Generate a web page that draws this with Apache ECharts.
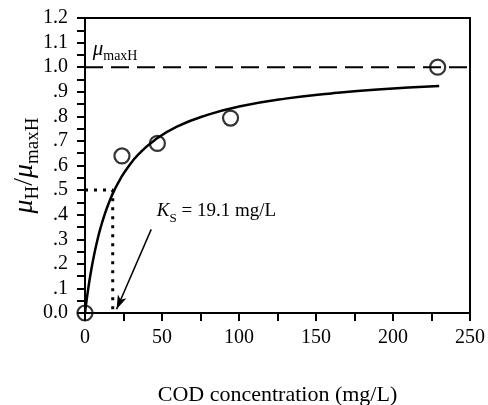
<!DOCTYPE html>
<html>
<head>
<meta charset="utf-8">
<script src="https://cdn.jsdelivr.net/npm/echarts@6/dist/echarts.min.js"></script>
<style>
  html, body { margin: 0; padding: 0; background: #fff; }
  #main { width: 488px; height: 405px; }
</style>
</head>
<body>
<div id="main"></div>
<script>
// measured points
var obsX = [0, 24, 47, 94.5, 229];
var obsY = [0, 0.639, 0.69, 0.793, 1.0];

// fitted curve
var fitX = [0, 2, 4, 6, 8, 10, 13, 16, 19, 23, 28, 35, 45, 60, 80, 100, 130, 160, 190, 230];
var fitY = [0, 0.095, 0.173, 0.239, 0.295, 0.344, 0.405, 0.456, 0.499, 0.546, 0.594, 0.647, 0.702, 0.759, 0.807, 0.840, 0.872, 0.893, 0.909, 0.923];

// mu max line, Ks guide
var maxX = [0, 253];
var maxY = [1.0, 1.0];
var ksX = [0, 18, 18];
var ksY = [0.5, 0.5, 0];
var arrowFrom = [43, 0.34];
var arrowTo = [20.5, 0.015];

var xTicks = [0, 250, 50];
var yTicks = [0, 1.2, 0.1];

var serif = "'Liberation Serif', 'DejaVu Serif', serif";

function pairs(xs, ys) {
    var out = [];
    for (var i = 0; i < xs.length; i++) {
        out.push([xs[i], ys[i]]);
    }
    return out;
}

// main text top-aligned, subscript pushed down by padding
function subRich(big, small, drop) {
    return {
        i: { fontFamily: serif, fontStyle: 'italic', fontSize: big, verticalAlign: 'top', color: '#000' },
        n: { fontFamily: serif, fontSize: big, verticalAlign: 'top', color: '#000' },
        s: { fontFamily: serif, fontSize: small, padding: [drop, 0, 0, 0], verticalAlign: 'bottom', color: '#000' }
    };
}

var myChart = echarts.init(document.getElementById('main'));

var option = {
    animation: false,
    backgroundColor: '#fff',
    grid: {
        left: 85,
        right: 18,
        top: 18,
        bottom: 92,
        outerBoundsMode: 'none',
        show: true,
        borderColor: '#000',
        borderWidth: 2,
        backgroundColor: 'transparent'
    },
    xAxis: {
        type: 'value',
        min: xTicks[0],
        max: xTicks[1],
        interval: xTicks[2],
        name: 'COD concentration (mg/L)',
        nameLocation: 'middle',
        nameGap: 71,
        nameMoveOverlap: false,
        nameTextStyle: { fontFamily: serif, fontSize: 22, color: '#000' },
        axisLine: { show: true, lineStyle: { color: '#000', width: 2 } },
        axisTick: { show: true, length: 8, lineStyle: { color: '#000', width: 2 } },
        minorTick: { show: true, splitNumber: 2, length: 8, lineStyle: { color: '#000', width: 2 } },
        axisLabel: { fontFamily: serif, fontSize: 20, color: '#000', margin: 15 },
        splitLine: { show: false }
    },
    yAxis: {
        type: 'value',
        min: yTicks[0],
        max: yTicks[1],
        interval: yTicks[2],
        name: '{i|μ}{s|H}{n|/}{i|μ}{s|maxH}',
        nameLocation: 'middle',
        nameRotate: 90,
        nameGap: 42,
        nameMoveOverlap: false,
        nameTextStyle: { color: '#000', rich: subRich(28, 19, 13) },
        axisLine: { show: true, lineStyle: { color: '#000', width: 2 } },
        axisTick: { show: true, length: 8, lineStyle: { color: '#000', width: 2 } },
        minorTick: { show: true, splitNumber: 2, length: 8, lineStyle: { color: '#000', width: 2 } },
        axisLabel: {
            fontFamily: serif, fontSize: 20, color: '#000', margin: 17,
            formatter: function (v) {
                var s = v.toFixed(1);
                if (v > 0 && v < 1) s = s.replace(/^0/, '');
                return s;
            }
        },
        splitLine: { show: false }
    },
    series: [
        {
            name: 'max',
            type: 'line',
            data: pairs(maxX, maxY),
            symbol: 'none',
            clip: false,
            lineStyle: { color: '#000', width: 2, type: [18, 8] },
            markPoint: {
                symbol: 'circle',
                symbolSize: 0,
                data: [{ coord: [5, 1.065] }],
                label: {
                    show: true,
                    position: 'inside',
                    align: 'left',
                    verticalAlign: 'middle',
                    formatter: '{i|μ}{s|maxH}',
                    rich: subRich(21, 14, 10)
                }
            }
        },
        {
            name: 'ks',
            type: 'line',
            data: pairs(ksX, ksY),
            symbol: 'none',
            lineStyle: { color: '#000', width: 3, type: [3, 6] },
            markLine: {
                silent: true,
                symbol: ['none', 'arrow'],
                symbolSize: [7, 14],
                lineStyle: { color: '#000', width: 1.5, type: 'solid' },
                label: { show: false },
                data: [[{ coord: arrowFrom }, { coord: arrowTo }]]
            },
            markPoint: {
                symbol: 'circle',
                symbolSize: 0,
                data: [{ coord: [46.6, 0.405] }],
                label: {
                    show: true,
                    position: 'inside',
                    align: 'left',
                    verticalAlign: 'middle',
                    formatter: '{i|K}{s|S}{n| = 19.1 mg/L}',
                    rich: subRich(19, 13, 11)
                }
            }
        },
        {
            name: 'fit',
            type: 'line',
            data: pairs(fitX, fitY),
            symbol: 'none',
            smooth: true,
            lineStyle: { color: '#000', width: 2.5 }
        },
        {
            name: 'obs',
            type: 'scatter',
            data: pairs(obsX, obsY),
            symbol: 'circle',
            symbolSize: 15,
            clip: false,
            itemStyle: { color: 'rgba(0,0,0,0)', borderColor: '#000', borderWidth: 2.2 }
        }
    ]
};

myChart.setOption(option);
</script>
</body>
</html>
